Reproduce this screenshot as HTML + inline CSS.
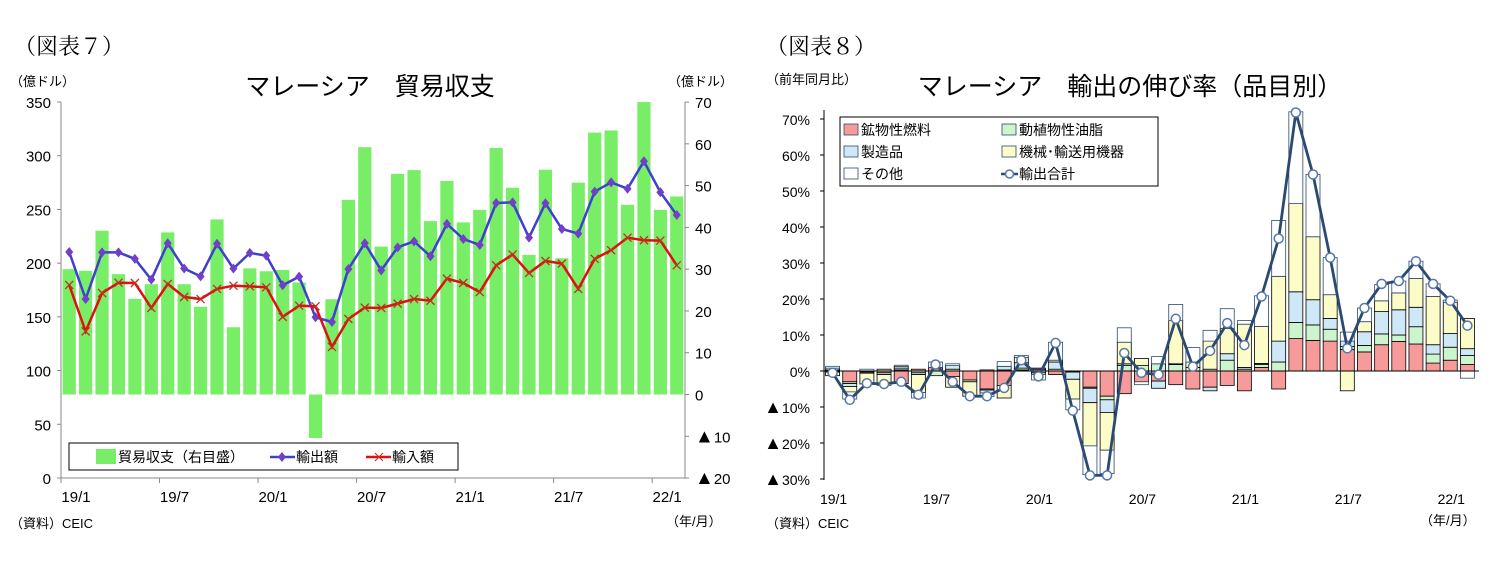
<!DOCTYPE html>
<html><head><meta charset="utf-8"><style>
body{margin:0;background:#fff}
svg{display:block;font-family:"Liberation Sans","Noto Sans CJK JP",sans-serif}
</style></head><body>
<svg id="s" width="1493" height="574" viewBox="0 0 1493 574">
<rect width="1493" height="574" fill="#fff"/>
<text x="14" y="54" font-size="22" font-family="Liberation Serif,Noto Serif CJK SC,serif">（図表７）</text>
<text x="370" y="95" font-size="25" text-anchor="middle">マレーシア　貿易収支</text>
<text x="10" y="86" font-size="13">（億ドル）</text>
<text x="668" y="86" font-size="13">（億ドル）</text>
<text x="10" y="528" font-size="13">（資料）CEIC</text>
<text x="666" y="526" font-size="13">（年/月）</text>
<g id="L"></g>
<text x="766" y="54" font-size="22" font-family="Liberation Serif,Noto Serif CJK SC,serif">（図表８）</text>
<text x="1130" y="95" font-size="25" text-anchor="middle">マレーシア　輸出の伸び率（品目別）</text>
<text x="766" y="84" font-size="13">（前年同月比）</text>
<text x="766" y="528" font-size="13">（資料）CEIC</text>
<text x="1420" y="525" font-size="13">（年/月）</text>
<g id="R"></g>
</svg>
<script>
const NS="http://www.w3.org/2000/svg";
function mk(p,t,a){const e=document.createElementNS(NS,t);for(const k in a)e.setAttribute(k,a[k]);p.appendChild(e);return e;}
const xLabels=["19/1","19/7","20/1","20/7","21/1","21/7","22/1"];
const balance=[30.0,29.6,39.2,28.8,22.9,26.4,38.8,26.4,21.0,41.9,16.1,30.2,29.5,29.8,26.8,-10.4,22.8,46.6,59.2,35.4,52.8,53.7,41.5,51.1,41.2,44.2,59.0,49.5,33.4,53.8,32.6,50.7,62.7,63.2,45.4,70.0,44.2,47.4];
const exportsV=[210.4,166.6,210,210,204,184.6,218.5,195,187.7,218,195,209.5,207,179.4,187.4,149.6,145.2,194.6,218.5,193.3,214.7,220.3,206.4,236.5,222.5,216.9,256,256.6,223.7,255.7,231.8,227.5,266.6,275.2,269.3,294.8,266,244.8];
const importsV=[179.7,136.5,172.2,181.8,181.5,158.3,180.6,168.5,166.6,176,179,178.4,177.5,150,160.4,159.8,122,148,158.6,158.3,162.3,166.6,165,185.6,181.5,173.1,198,208,190.8,202,199.6,176,204,212,223.7,221.3,221,198];
const leftTicks=[0,50,100,150,200,250,300,350];
const rightTicks=[-20,-10,0,10,20,30,40,50,60,70];
const fuel =[-0.3,-3,-0.3,-0.5,-3.5,0.5,1.0,-1.5,-2.5,-5,-4,0.3,0.5,-1,-0.3,-4.5,-7,-6.3,-3,-2.8,-3.8,-5,-4.5,-4,-5.5,1.0,-5,9,8.5,8.3,6,5.3,7.3,8.2,7.5,2.2,3,1.8];
const oils =[0.3,-0.5,-0.3,0.5,0.3,-0.5,-1.3,0.5,-0.5,-0.3,0.3,0.5,-0.5,0.5,0,-0.3,-1,1.5,1.5,2,1.8,1.0,0.5,3,0.5,0.8,2.5,4.5,4.3,3.3,0.8,1.8,3,1.8,4.8,2.5,3.6,2.5];
const manuf=[0.5,-0.8,0,-0.5,0.5,-0.5,0,1.0,0,-0.8,1,1.5,0.3,2,-2,-4,-3.5,0.5,0,-2,0.2,0,-1,1.8,0.5,0.3,5.8,8.5,7,3,1.5,3.8,6.2,7,5.4,2.6,3.8,1.9];
const mach =[-1.0,-1.5,-3,-2.5,0.5,-5,0,-3,-4,0.3,-3.5,1.5,-0.5,0.5,-5.5,-12,-10.5,6,2,0,12,1.5,7.8,7,12,10.3,18,24.5,17.5,6.6,-5.5,2.8,3,4.7,8,13.4,8.7,8.4];
const other=[0.5,-2,0.5,-0.5,0.3,-1.5,1.5,0.5,0,-1.0,1.3,0.5,-1.5,5,-3,-8,-6.5,4,-0.8,2,4.5,4,3,5.5,1,8.5,15.5,25.5,17.3,10.3,2.5,3.8,4.5,3.3,4.8,3.5,0.6,-2];
const total=[-0.5,-8,-3.4,-3.6,-3,-6.6,1.8,-3,-7,-7,-4.7,3,-1.5,7.8,-11,-29,-29,5,-0.5,-1,14.5,1.2,5.6,13.3,7.2,20.7,36.8,71.8,54.6,31.5,6.3,17.5,24.2,25,30.5,24.2,19.5,12.6];
const pctTicks=[-30,-20,-10,0,10,20,30,40,50,60,70];

const L=document.getElementById('L');
const lx0=61,lx1=685,n=balance.length,lw=(lx1-lx0)/n;
const ly=v=>478-v*376/350, ry=v=>394.5-v*376/90;
const lcx=i=>lx0+lw*(i+0.5);
balance.forEach((v,i)=>{const y0=ry(0),y1=ry(v);
 const r=mk(L,'rect',{x:lcx(i)-6.6,y:Math.min(y0,y1),width:13.2,height:Math.abs(y1-y0),fill:'#77ee66'});
 
 });
mk(L,'line',{x1:lx0,y1:102,x2:lx0,y2:478,stroke:'#888'});
mk(L,'line',{x1:lx0,y1:478,x2:lx1,y2:478,stroke:'#888'});
mk(L,'line',{x1:lx1,y1:102,x2:lx1,y2:478,stroke:'#888'});
leftTicks.forEach(t=>{const y=ly(t);mk(L,'line',{x1:lx0-4,y1:y,x2:lx0,y2:y,stroke:'#888'});
 const e=mk(L,'text',{x:lx0-10,y:y+6,'font-size':15,'text-anchor':'end'});e.textContent=t;
 
 });
rightTicks.forEach(t=>{const y=ry(t);mk(L,'line',{x1:lx1,y1:y,x2:lx1+4,y2:y,stroke:'#888'});
 const e=mk(L,'text',{x:lx1+10,y:y+6,'font-size':15});
 if(t<0){const a=mk(e,'tspan',{'font-size':19});a.textContent='▲';const b=mk(e,'tspan',{});b.textContent=-t;}else e.textContent=t;
 
 });
xLabels.forEach((t,k)=>{const x=lx0+k*6*lw;mk(L,'line',{x1:x,y1:478,x2:x,y2:483,stroke:'#888'});
 const e=mk(L,'text',{x:x+15,y:502,'font-size':15,'text-anchor':'middle'});e.textContent=t;
 
 });
const el=mk(L,'polyline',{points:exportsV.map((v,i)=>lcx(i)+','+ly(v)).join(' '),fill:'none',stroke:'#3f3fd0','stroke-width':2.5});


exportsV.forEach((v,i)=>{const x=lcx(i),y=ly(v);
 const m=mk(L,'polygon',{points:`${x},${y-5} ${x+4},${y} ${x},${y+5} ${x-4},${y}`,fill:'#7040c8'});
 
 });
const il=mk(L,'polyline',{points:importsV.map((v,i)=>lcx(i)+','+ly(v)).join(' '),fill:'none',stroke:'#e01010','stroke-width':2.5});


importsV.forEach((v,i)=>{const x=lcx(i),y=ly(v);
 const m=mk(L,'path',{d:`M${x-4},${y-4}L${x+4},${y+4}M${x-4},${y+4}L${x+4},${y-4}`,stroke:'#c03020','stroke-width':1.3});
 
 });
const lg=mk(L,'g',{});


mk(lg,'rect',{x:69,y:443,width:389,height:27,fill:'#fff',stroke:'#000'});
mk(lg,'rect',{x:96,y:449,width:20,height:15,fill:'#77ee66'});
let t=mk(lg,'text',{x:118,y:462,'font-size':14});t.textContent='貿易収支（右目盛）';
mk(lg,'line',{x1:270,y1:457,x2:295,y2:457,stroke:'#3f3fd0','stroke-width':2.5});
mk(lg,'polygon',{points:'282,452 286,457 282,462 278,457',fill:'#7040c8'});
t=mk(lg,'text',{x:296,y:462,'font-size':14});t.textContent='輸出額';
mk(lg,'line',{x1:366,y1:457,x2:391,y2:457,stroke:'#e01010','stroke-width':2.5});
mk(lg,'path',{d:'M375,453L383,461M375,461L383,453',stroke:'#c03020'});
t=mk(lg,'text',{x:392,y:462,'font-size':14});t.textContent='輸入額';

const R=document.getElementById('R');
const rx0=824,rx1=1476,rw=(rx1-rx0)/n;
const py=v=>371-v*3.6;
const rcx=i=>rx0+rw*(i+0.5);
const series=[[fuel,'#f79a9a','#000','fuel-bar'],[oils,'#cdf5cd','#000','oils-bar'],[manuf,'#cfe8f8','#000','manufactured-bar'],[mach,'#fcfcc8','#000','machinery-bar'],[other,'#ffffff','#2b4a72','other-bar']];
for(let i=0;i<n;i++){let pos=0,neg=0;
 series.forEach(s=>{const v=s[0][i];let a,b;
  if(v>=0){a=pos;b=pos+v;pos=b;}else{a=neg;b=neg+v;neg=b;}
  const r=mk(R,'rect',{x:rcx(i)-7,y:Math.min(py(a),py(b)),width:14,height:Math.abs(py(b)-py(a)),fill:s[1],stroke:s[2],'stroke-width':0.8});
  
  });}
mk(R,'line',{x1:rx0,y1:371,x2:rx1+3,y2:371,stroke:'#000'});
mk(R,'line',{x1:rx0,y1:110,x2:rx0,y2:480,stroke:'#000'});
pctTicks.forEach(v=>{const y=py(v);mk(R,'line',{x1:rx0-4,y1:y,x2:rx0,y2:y,stroke:'#000'});
 const e=mk(R,'text',{x:rx0-14,y:y+6,'font-size':14,'text-anchor':'end'});
 if(v<0){const a=mk(e,'tspan',{'font-size':18});a.textContent='▲';const b=mk(e,'tspan',{});b.textContent=(-v)+'%';}else e.textContent=v+'%';
 
 });
xLabels.forEach((tx,k)=>{const e=mk(R,'text',{x:rcx(k*6)+1,y:504,'font-size':14,'text-anchor':'middle'});e.textContent=tx;
 
 });
const tl=mk(R,'polyline',{points:total.map((v,i)=>rcx(i)+','+py(v)).join(' '),fill:'none',stroke:'#2b4a72','stroke-width':2.8});


total.forEach((v,i)=>{const c=mk(R,'circle',{cx:rcx(i),cy:py(v),r:4.5,fill:'#fff',stroke:'#5577aa','stroke-width':1.5});
 
 });
const rg=mk(R,'g',{});


mk(rg,'rect',{x:840,y:117,width:318,height:69,fill:'#fff',stroke:'#000'});
const items=[['鉱物性燃料','#f79a9a',844,124],['動植物性油脂','#cdf5cd',1002,124],['製造品','#cfe8f8',844,146],['機械･輸送用機器','#fcfcc8',1002,146],['その他','#fff',844,168]];
items.forEach(it=>{mk(rg,'rect',{x:it[2],y:it[3],width:14,height:11,fill:it[1],stroke:'#2b4a72','stroke-width':0.8});
 const e=mk(rg,'text',{x:it[2]+17,y:it[3]+11,'font-size':14});e.textContent=it[0];});
mk(rg,'line',{x1:1001,y1:174,x2:1018,y2:174,stroke:'#2b4a72','stroke-width':2.5});
mk(rg,'circle',{cx:1009.5,cy:174,r:4,fill:'#fff',stroke:'#5577aa','stroke-width':1.5});
t=mk(rg,'text',{x:1019,y:179,'font-size':14});t.textContent='輸出合計';
</script>
</body></html>
